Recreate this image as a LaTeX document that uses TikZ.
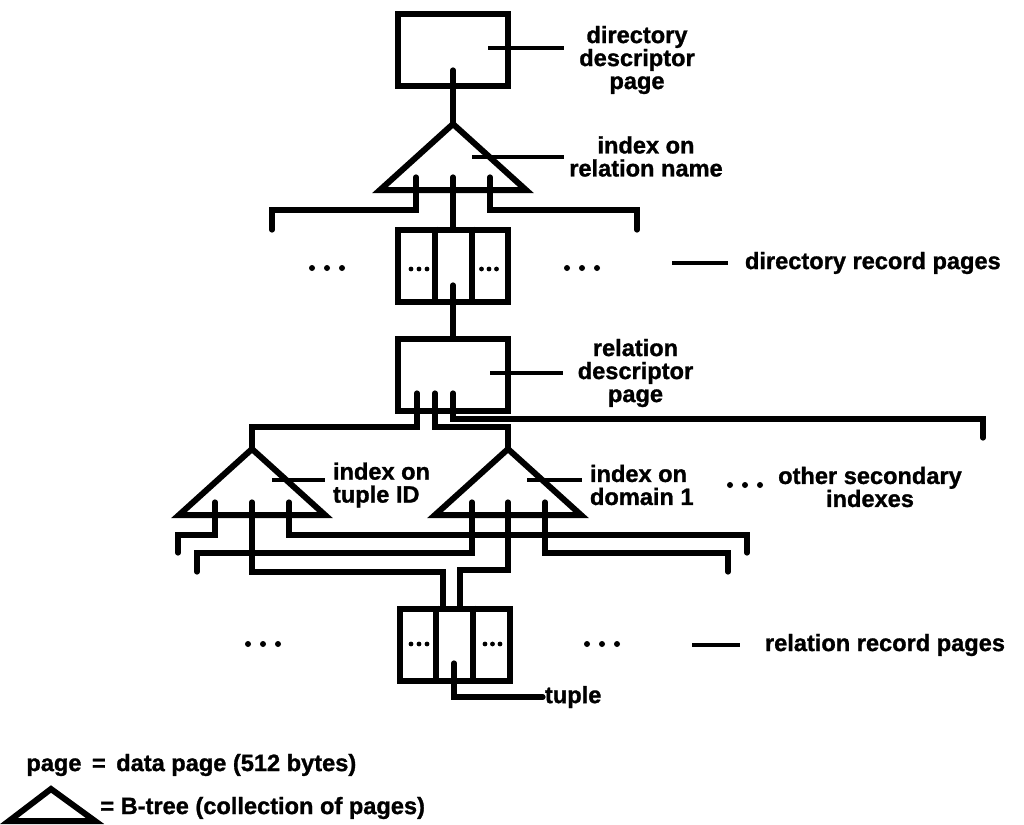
\documentclass[tikz,border=0pt]{standalone}
\usepackage{fontspec}
\setmainfont{Liberation Sans}[BoldFeatures={FakeBold=1.2}]
\usetikzlibrary{positioning}

\begin{document}
\begin{tikzpicture}[
  x=0.5pt, y=-0.5pt,
  font=\fontsize{11.8}{11.5}\selectfont\bfseries,
  page/.style={rectangle, draw, line width=3pt, minimum width=55pt,
               minimum height=36pt, inner sep=0pt},
  tree/.style={line width=3pt, line join=miter},
  ptr/.style={line width=2.6pt, line cap=round},
  lead/.style={line width=2.2pt},
  lbl/.style={align=center, inner sep=0pt},
]
\useasboundingbox (0,0) rectangle (1024,825);

% pages
\node[page] (dirdesc) at (452.5,49.5)  {};
\node[page] (dirrec)  at (453,265.5)   {};
\node[page] (reldesc) at (453,375)     {};
\node[page] (relrec)  at (454.5,644.5) {};
\foreach \p in {dirrec, relrec}
  \draw[tree] ([xshift=-9.25pt]\p.north) -- ([xshift=-9.25pt]\p.south)
              ([xshift=9.25pt]\p.north)  -- ([xshift=9.25pt]\p.south);

% B-trees
\coordinate (relidx) at (453,124);
\coordinate (tupidx) at (252,449);
\coordinate (domidx) at (508,449);
\foreach \t in {relidx, tupidx, domidx}
  \draw[tree] (\t) -- ++(-73,66) -- ++(146,0) -- cycle;

% pointer origins and loose ends
\coordinate (dd-p) at (453,70);
\coordinate (ri-a) at (416,177);
\coordinate (ri-b) at (453,177);
\coordinate (ri-c) at (490,177);
\coordinate (dr-p) at (453,285);
\coordinate (rd-a) at (417,393);
\coordinate (rd-b) at (435,393);
\coordinate (rd-c) at (453,393);
\coordinate (tp-a) at (215,502);
\coordinate (tp-b) at (252,502);
\coordinate (tp-c) at (289,502);
\coordinate (dp-a) at (472,502);
\coordinate (dp-b) at (508,502);
\coordinate (dp-c) at (545,502);
\coordinate (rr-p) at (454,663);
\coordinate (dr-l) at (272,230);
\coordinate (dr-r) at (637,230);
\coordinate (oth)  at (983,438);
\coordinate (tl-1) at (178,553);
\coordinate (tl-2) at (197,572);
\coordinate (tr-1) at (747,553);
\coordinate (tr-2) at (728,572);

\draw[ptr] (dd-p) -- (relidx);
\draw[ptr] (ri-a) -- ++(0,33) -| (dr-l);
\draw[ptr] (ri-b) -- (dirrec.north);
\draw[ptr] (ri-c) -- ++(0,33) -| (dr-r);
\draw[ptr] (dr-p) -- (reldesc.north);
\draw[ptr] (rd-a) -- ++(0,34) -| (tupidx);
\draw[ptr] (rd-b) -- ++(0,34) -| (domidx);
\draw[ptr] (rd-c) -- ++(0,26) -| (oth);
\draw[ptr] (tp-a) -- ++(0,33) -| (tl-1);
\draw[ptr] (tp-c) -- ++(0,33) -| (tr-1);
\draw[ptr] (dp-a) -- ++(0,51) -| (tl-2);
\draw[ptr] (dp-c) -- ++(0,51) -| (tr-2);
\draw[ptr] (tp-b) -- ++(0,70) -| ([xshift=-5.75pt]relrec.north);
\draw[ptr] (dp-b) -- ++(0,68) -| ([xshift=2.75pt]relrec.north);

% dots
\foreach \x in {312,327,342,567,582,597} \fill (\x,268) circle[radius=1.5pt];
\foreach \x in {411,419,427,481.5,489,496.5} \fill (\x,269) circle[radius=1.2pt];
\foreach \x in {248,263,278,587,602,617} \fill (\x,644) circle[radius=1.5pt];
\foreach \x in {411,419,427,485,492.5,500} \fill (\x,644) circle[radius=1.2pt];
\foreach \x in {730,745,760} \fill (\x,485) circle[radius=1.5pt];

% labels
\node[lbl, outer xsep=7.5pt] (dirdesclbl) at (637,60) {directory\\descriptor\\page};
\node[lbl, outer xsep=2.5pt] (relidxlbl)  at (646,156.5) {index on\\relation name};
\node[lbl, anchor=west, outer xsep=8.5pt] (dirreclbl) at (728,263) {directory record pages};
\node[lbl, outer xsep=7.5pt] (reldesclbl) at (635.5,373) {relation\\descriptor\\page};
\node[lbl, align=left, anchor=west, outer xsep=4pt] (tupidxlbl) at (325,485) {index on\\tuple ID};
\node[lbl, align=left, anchor=west, outer xsep=4pt] (domidxlbl) at (582,485) {index on\\domain 1};
\node[lbl] (othlbl) at (870,487) {other secondary\\indexes};
\node[lbl, anchor=west, outer xsep=12.5pt] (relreclbl) at (740,645) {relation record pages};
\node[lbl, anchor=west, outer xsep=1pt] (tuple) at (543,697) {tuple};

\coordinate (dd-l)  at (488,48);
\coordinate (ri-l)  at (472,157);
\coordinate (drp-m) at (672,263);
\coordinate (rd-l)  at (490,373);
\coordinate (tp-l)  at (272,480);
\coordinate (dp-l)  at (527,480);
\coordinate (rrp-m) at (692,645);
\draw[lead] (dd-l)  -- (dd-l -| dirdesclbl.west);
\draw[lead] (ri-l)  -- (ri-l -| relidxlbl.west);
\draw[lead] (drp-m) -- (dirreclbl.west);
\draw[lead] (rd-l)  -- (rd-l -| reldesclbl.west);
\draw[lead] (tp-l)  -- (tp-l -| tupidxlbl.west);
\draw[lead] (dp-l)  -- (dp-l -| domidxlbl.west);
\draw[lead] (rrp-m) -- (relreclbl.west);
\draw[ptr] (rr-p) |- (tuple.west);

% key
\node[lbl, anchor=west] (pagekey) at (26,765) {page \,=\, data page (512 bytes)};
\coordinate (keyidx) at (51,789);
\draw[tree] (keyidx) -- (9,821) -- (95,821) -- cycle;
\node[lbl, anchor=west] (treekey) at (100,808) {= B-tree (collection of pages)};

\end{tikzpicture}
\end{document}
